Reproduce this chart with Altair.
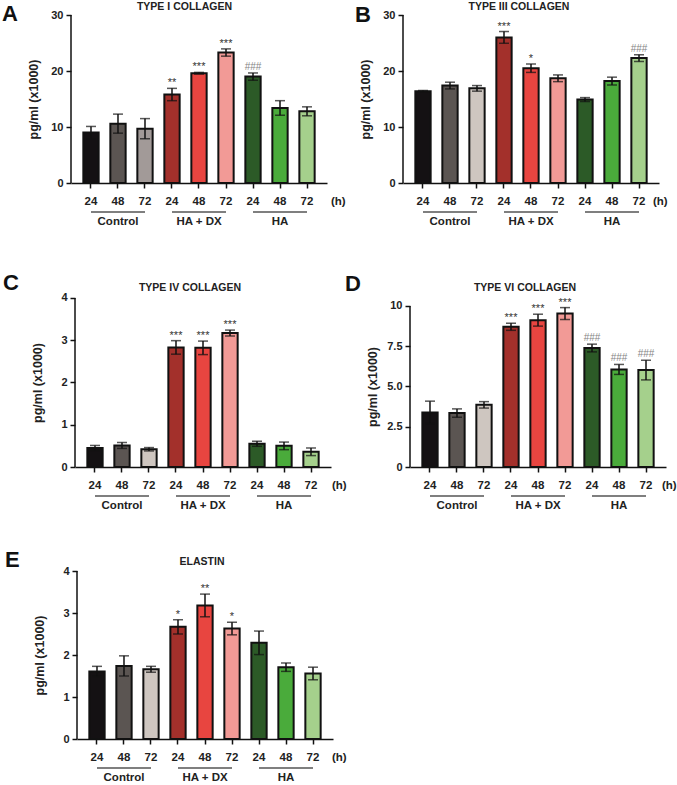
import altair as alt
import pandas as pd

# ---------------------------------------------------------------- data
groups = ["Control", "HA + DX", "HA"]
hours = ["24", "48", "72"]

bar_colors = ["#141113", "#5b5552", "#cec6c0",
              "#a3302b", "#e84540", "#f29a96",
              "#2c5a27", "#4aab3b", "#a5d08c"]
bar_colors_col1 = ["#141113", "#5b5552", "#a29a98",
                   "#a3302b", "#e84540", "#f29a96",
                   "#2c5a27", "#4aab3b", "#a5d08c"]

col1_mean = [9.0, 10.6, 9.7, 15.8, 19.6, 23.3, 19.0, 13.4, 12.8]
col1_sem = [1.1, 1.7, 1.8, 1.1, 0.15, 0.65, 0.65, 1.3, 0.8]
col1_sig = ["", "", "", "**", "***", "***", "###", "", ""]

col3_mean = [16.4, 17.4, 16.9, 26.0, 20.5, 18.7, 14.9, 18.2, 22.3]
col3_sem = [0.1, 0.6, 0.5, 1.05, 0.75, 0.6, 0.35, 0.7, 0.6]
col3_sig = ["", "", "", "***", "*", "", "", "", "###"]

col4_mean = [0.45, 0.51, 0.42, 2.83, 2.82, 3.17, 0.55, 0.50, 0.36]
col4_sem = [0.06, 0.07, 0.04, 0.16, 0.16, 0.07, 0.06, 0.09, 0.09]
col4_sig = ["", "", "", "***", "***", "***", "", "", ""]

col6_mean = [3.39, 3.35, 3.86, 8.71, 9.12, 9.53, 7.39, 6.06, 6.02]
col6_sem = [0.70, 0.26, 0.20, 0.22, 0.37, 0.37, 0.24, 0.31, 0.61]
col6_sig = ["", "", "", "***", "***", "***", "###", "###", "###"]

elastin_mean = [1.61, 1.74, 1.66, 2.67, 3.18, 2.63, 2.29, 1.71, 1.56]
elastin_sem = [0.12, 0.24, 0.07, 0.17, 0.27, 0.15, 0.28, 0.10, 0.15]
elastin_sig = ["", "", "", "*", "**", "*", "", "", ""]

# ---------------------------------------------------------------- style
FONT = "Liberation Sans"
INK = "#111111"
W = 256
cats = [f"{g}|{h}" for g in groups for h in hours]
one_row = pd.DataFrame({"k": [0]})


def panel(letter, title, mean, sem, sig, colors, yvals, ytop, ydom, height,
          cell_w, dx, origin, letter_at, title_at, h_x,
          label_expr="datum.label", anchor=False):
    ox, oy = origin
    df = pd.DataFrame({"cat": cats, "mean": mean, "sem": sem, "sig": sig})
    df["lo"] = df["mean"] - df["sem"]
    df["hi"] = df["mean"] + df["sem"]
    gdf = pd.DataFrame({"group": groups, "first": cats[0::3],
                        "mid": cats[1::3], "last": cats[2::3]})

    xscale = alt.Scale(domain=cats, range=[dx, dx + W],
                       paddingInner=0.433, paddingOuter=0.457)
    yscale = alt.Scale(domain=[0, ydom], nice=False, zero=True)

    xaxis = alt.Axis(title=None, labelExpr="split(datum.label, '|')[1]",
                     labelAngle=0, tickSize=5, labelPadding=7,
                     labelFontSize=11.5)
    title_y = height - (ytop / 2) / ydom * height
    yaxis = alt.Axis(title="pg/ml (x1000)", values=yvals, labelExpr=label_expr,
                     tickSize=5, labelPadding=3, domain=False, offset=-dx,
                     titleX=-38, titleY=title_y, titleAngle=270,
                     titleAlign="center", titleBaseline="middle")

    def xf(field):
        return alt.X(f"{field}:N", scale=xscale, sort=cats, axis=xaxis)

    def yf(field):
        return alt.Y(f"{field}:Q", scale=yscale, axis=yaxis)

    bars = alt.Chart(df).mark_bar(stroke=INK, strokeWidth=2).encode(
        x=xf("cat"),
        y=yf("mean"),
        color=alt.Color("cat:N", scale=alt.Scale(domain=cats, range=colors),
                        legend=None),
    )
    err = alt.Chart(df).mark_rule(color=INK, strokeWidth=1.5).encode(
        x=xf("cat"), y=yf("lo"), y2="hi:Q")
    cap_hi = alt.Chart(df).mark_tick(color=INK, thickness=1.5, size=10,
                                     orient="horizontal").encode(
        x=xf("cat"), y=yf("hi"))
    cap_lo = alt.Chart(df).mark_tick(color=INK, thickness=1.5, size=10,
                                     orient="horizontal").encode(
        x=xf("cat"), y=yf("lo"))
    stars = alt.Chart(df).transform_filter(
        "indexof(datum.sig, '*') >= 0").mark_text(
        baseline="alphabetic", dy=-2, fontSize=11, font=FONT,
        color="#333333").encode(x=xf("cat"), y=yf("hi"), text="sig:N")
    hashes = alt.Chart(df).transform_filter(
        "indexof(datum.sig, '#') >= 0").mark_text(
        baseline="alphabetic", dy=-3, fontSize=10, font=FONT,
        color="#858585").encode(x=xf("cat"), y=yf("hi"), text="sig:N")

    yline = alt.Chart(one_row).mark_rule(color=INK, strokeWidth=1.5).encode(
        x=alt.value(dx),
        y=alt.YDatum(0, scale=yscale, axis=yaxis, type="quantitative"),
        y2=alt.Y2Datum(ytop))

    underline = alt.Chart(gdf).mark_rule(color="#555555", strokeWidth=1.5).encode(
        x=xf("first"), x2=alt.X2("last"), y=alt.value(height + 29))
    glabels = alt.Chart(gdf).mark_text(
        fontSize=11.5, fontWeight="bold", font=FONT, color="#222222",
        baseline="middle").encode(
        x=xf("mid"), y=alt.value(height + 39), text="group:N")
    hlabel = alt.Chart(one_row).mark_text(
        align="left", baseline="middle", fontSize=11.5, fontWeight="bold",
        font=FONT, color="#222222").encode(
        x=alt.value(h_x - ox), y=alt.value(height + 19), text=alt.value("(h)"))
    letter_t = alt.Chart(one_row).mark_text(
        align="left", baseline="alphabetic", fontSize=22, fontWeight="bold",
        font=FONT, color=INK).encode(
        x=alt.value(letter_at[0] - ox), y=alt.value(letter_at[1] - oy),
        text=alt.value(letter))
    title_t = alt.Chart(one_row).mark_text(
        align="center", baseline="middle", fontSize=10.5, fontWeight="bold",
        font=FONT, color="#222222").encode(
        x=alt.value(title_at[0] - ox), y=alt.value(title_at[1] - oy),
        text=alt.value(title))

    layers = [bars, err, cap_hi, cap_lo, stars, hashes, yline,
              underline, glabels, hlabel, letter_t, title_t]
    if anchor:
        corner = alt.Chart(one_row).mark_rule(strokeWidth=0, opacity=0).encode(
            x=alt.value(-ox), x2=alt.value(-ox),
            y=alt.value(-oy), y2=alt.value(-oy + 1))
        layers.append(corner)
    return alt.layer(*layers).properties(width=cell_w, height=height)


p_a = panel("A", "TYPE I COLLAGEN", col1_mean, col1_sem, col1_sig, bar_colors_col1,
            [0, 10, 20, 30], 30, 30, 168, 262, 0, (71, 15),
            (2, 21), (184.5, 7), 331, anchor=True)
p_b = panel("B", "TYPE III COLLAGEN", col3_mean, col3_sem, col3_sig, bar_colors,
            [0, 10, 20, 30], 30, 30, 168, 263, 0, (403, 15),
            (355, 22), (519, 7), 653)
p_c = panel("C", "TYPE IV COLLAGEN", col4_mean, col4_sem, col4_sig, bar_colors,
            [0, 1, 2, 3, 4], 4, 4.26, 180, 262, 4, (71, 287),
            (3, 290), (190, 288), 332)
p_d = panel("D", "TYPE VI COLLAGEN", col6_mean, col6_sem, col6_sig, bar_colors,
            [0, 2.5, 5, 7.5, 10], 10, 11.18, 180, 263, 7, (403, 287),
            (345, 291), (525, 288), 662,
            label_expr="datum.value == 0 ? '0' : datum.value == 10 ? '10' : format(datum.value, '.1f')")
p_e = panel("E", "ELASTIN", elastin_mean, elastin_sem, elastin_sig, bar_colors,
            [0, 1, 2, 3, 4], 4, 4, 168, 262, 6, (71, 571),
            (5, 567), (202, 562), 332)

chart = alt.concat(
    p_a, p_b, p_c, p_d, p_e, columns=2, bounds="flush",
    spacing={"row": 104, "column": 70},
).resolve_scale(
    color="independent", x="independent", y="independent"
).properties(
    padding=0, background="white"
).configure_view(
    stroke=None
).configure_axis(
    grid=False,
    labelFont=FONT, labelFontWeight="bold", labelFontSize=11, labelColor="#222222",
    titleFont=FONT, titleFontWeight="bold", titleFontSize=12.5, titleColor="#222222",
    tickColor=INK, tickWidth=1.5, domainColor=INK, domainWidth=1.5,
)

chart.save("out.html", embed_options={"renderer": "svg", "actions": False})
